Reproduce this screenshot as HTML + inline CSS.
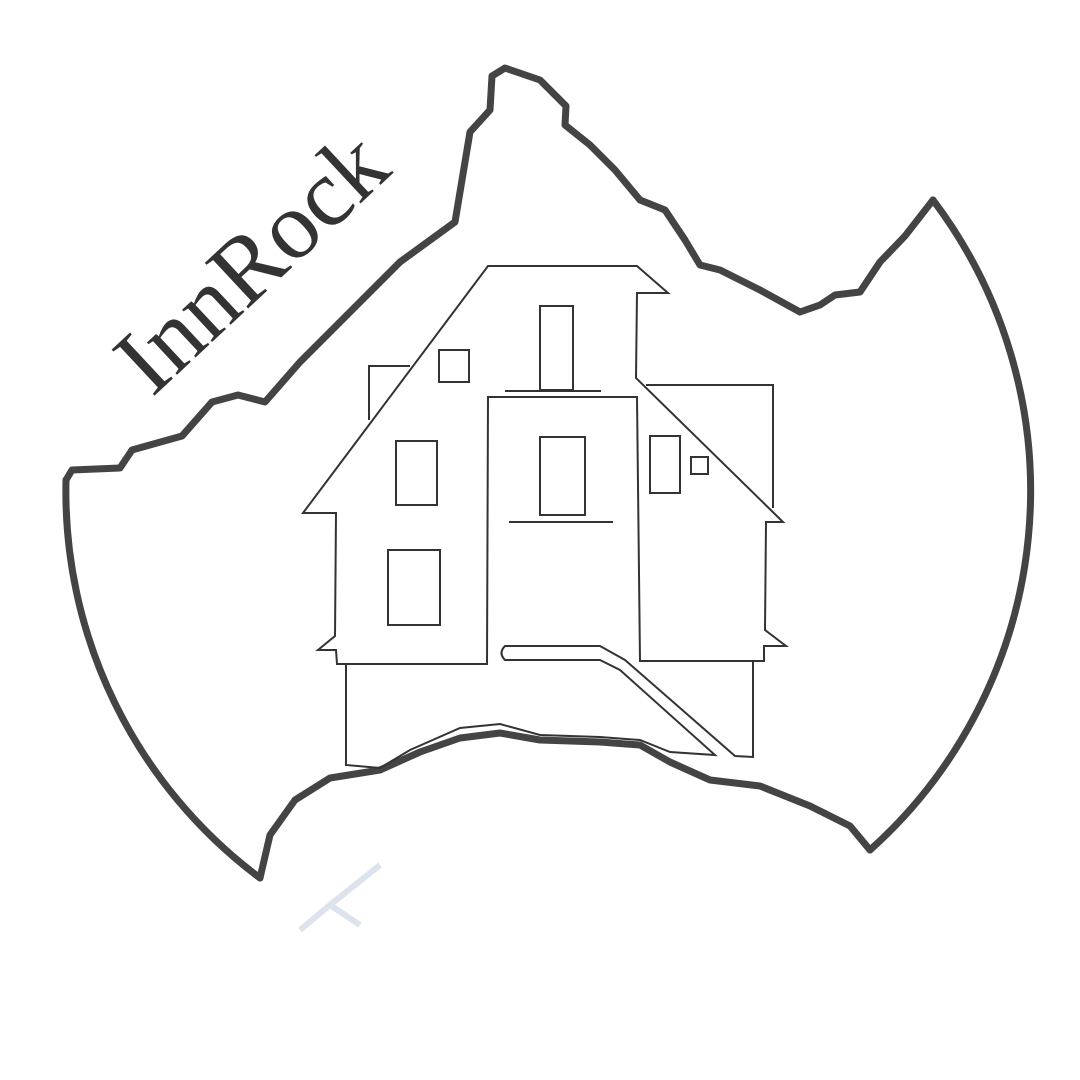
<!DOCTYPE html>
<html><head><style>html,body{margin:0;padding:0;background:#fff}svg{display:block}</style></head><body>
<svg width="1080" height="1080" viewBox="0 0 1080 1080" xmlns="http://www.w3.org/2000/svg">
<g fill="none" stroke="#444" stroke-width="7" stroke-linecap="round" stroke-linejoin="round">
<path d="M66 480 A482 482 0 0 0 260 878"/>
<path d="M933 200 A482 482 0 0 1 870 850"/>
<path d="M66 480 L72 470 L120 468 L132 450 L182 436 L212 402 L238 395 L265 402 L300 362 L350 312 L400 262 L455 222 L462 180 L470 132 L490 110 L492 76 L505 68 L540 80 L556 96 L566 106 L565 125 L590 145 L615 170 L640 200 L665 210 L685 240 L700 265 L720 270 L760 290 L800 312 L820 305 L835 295 L860 292 L880 262 L905 236 L933 200"/>
<path d="M260 878 L270 835 L295 800 L330 778 L380 770 L420 752 L460 738 L500 733 L540 740 L600 742 L640 745 L670 762 L710 780 L760 786 L810 806 L850 826 L870 850"/>
</g>
<g fill="none" stroke="#333" stroke-width="2">
<path d="M303 513 L488 266 L637 266 L668 293 L637 293 L636 378 L783 522 L766 522 L765 630 L786 646 L764 646 L764 661 L640 661 L637 397 L488 397 L487 664 L337 664 L336 650 L318 650 L335 636 L336 513 Z"/>
<path d="M369 420 L369 366 L410 366"/>
<path d="M646 385 L773 385 L773 508"/>
<path d="M346 664 L346 765 L380 768 L410 750 L460 728 L500 724 L540 735 L600 737 L640 740 L670 752 L715 755 L620 670 L600 660 L505 660 Q498 653 505 646 L600 646 L625 660 L735 756 L753 757 L753 661"/>
<rect x="540" y="306" width="33" height="84"/>
<line x1="505" y1="391" x2="601" y2="391"/>
<rect x="439" y="350" width="30" height="32"/>
<rect x="540" y="437" width="45" height="78"/>
<line x1="509" y1="522" x2="613" y2="522"/>
<rect x="396" y="441" width="41" height="64"/>
<rect x="388" y="550" width="52" height="75"/>
<rect x="650" y="436" width="30" height="57"/>
<rect x="691" y="457" width="17" height="17"/>
</g>
<text x="0" y="0" transform="translate(152 398) rotate(-43)" font-family="Liberation Serif, serif" font-size="96" fill="#333">InnRock</text>
<path d="M380 865 L330 905 M300 930 L330 905 L360 925" stroke="#dde3ec" stroke-width="6" fill="none"/>
</svg>
</body></html>
